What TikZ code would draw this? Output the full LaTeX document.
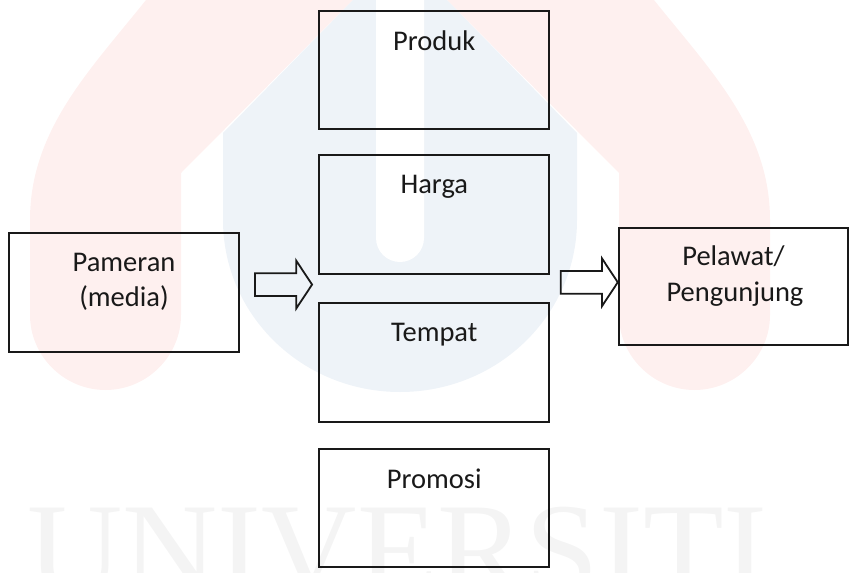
\documentclass[tikz,border=0pt]{standalone}
\usepackage{fontspec}
\setmainfont{Carlito}
\newfontfamily\wmfont{Liberation Serif}
\usetikzlibrary{shapes.arrows}
\definecolor{wmred}{HTML}{FEF0EF}
\definecolor{wmblue}{HTML}{EEF3F8}
\definecolor{wmgrey}{HTML}{F4F4F4}
\tikzset{
  x=1pt,y=-1pt,
  box/.style={draw=black!90,line width=1.9pt,inner sep=0pt,minimum width=#1},
  box/.default=230.6pt,
  lbl/.style={font=\fontsize{28.5}{35}\selectfont,text=black!90,inner sep=0pt,anchor=base},
  blockarrow/.style={single arrow,draw=black!90,line width=1.8pt,inner xsep=0pt,inner ysep=10.5pt,
    outer sep=0pt,minimum height=57pt,minimum width=46pt,single arrow head extend=12.5pt,
    single arrow tip angle=113}
}
\begin{document}
\begin{tikzpicture}
\useasboundingbox (0,0) rectangle (849,573);
\begin{scope}
\clip (0,0) rectangle (849,573);
% watermark
\fill[wmred] (30,315) .. controls (30,356) and (64,390) .. (105.5,390)
  .. controls (147,390) and (181,356) .. (181,315) -- (181,173)
  -- (353,0) -- (146,0) .. controls (90,70) and (30,130) .. (30,220) -- cycle;
\fill[wmred] (770,315) .. controls (770,356) and (736,390) .. (694.5,390)
  .. controls (653,390) and (619,356) .. (619,315) -- (619,173)
  -- (447,0) -- (654,0) .. controls (710,70) and (770,130) .. (770,220) -- cycle;
\fill[wmblue] (223,133) -- (353,0) -- (447,0) -- (577,133) -- (577,220)
  .. controls (577,315) and (498,392) .. (400,392)
  .. controls (302,392) and (223,315) .. (223,220) -- cycle;
\fill[white] (376,0) -- (424,0) -- (424,238) arc[start angle=0,end angle=180,radius=24] -- cycle;
\node[text=wmgrey,font=\fontsize{132}{132}\selectfont\wmfont,inner sep=0pt,anchor=base west] (wm) at (27,594) {UNIVERSITI};
\end{scope}
% boxes
\node[box,minimum height=118pt] (produk) at (434,70.3) {};
\node[box,minimum height=118.6pt] (harga) at (434,214.3) {};
\node[box,minimum height=118.4pt] (tempat) at (434,362.5) {};
\node[box,minimum height=118pt] (promosi) at (434,508.3) {};
\node[box,minimum height=118.4pt] (pameran) at (124,292.5) {};
\node[box=229pt,minimum height=117.6pt] (pelawat) at (733.5,286.5) {};
% labels
\node[lbl] (tproduk) at (434.3,50) {Produk};
\node[lbl] (tharga) at (434.3,193.5) {Harga};
\node[lbl] (ttempat) at (434.3,341.7) {Tempat};
\node[lbl] (tpromosi) at (434.3,488) {Promosi};
\node[lbl] (tpameran) at (124,271.7) {Pameran};
\node[lbl] (tmedia) at (124,306.7) {(media)};
\node[lbl] (tpelawat) at (733.5,265) {Pelawat/};
\node[lbl] (tpengunjung) at (735,301.5) {Pengunjung};
% block arrows
\node[blockarrow] (arrowa) at (279.8,284.6) {};
\node[blockarrow] (arrowb) at (585.5,282.3) {};
\end{tikzpicture}
\end{document}
